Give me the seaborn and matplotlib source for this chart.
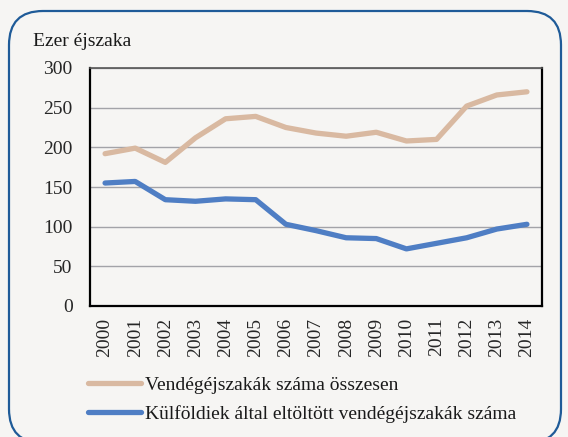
import matplotlib
matplotlib.use("Agg")
import matplotlib.pyplot as plt
from matplotlib.patches import FancyBboxPatch
from matplotlib.transforms import IdentityTransform
import numpy as np
import pandas as pd
import seaborn as sns

years = list(range(2000, 2015))
total = [192, 199, 181, 212, 236, 239, 225, 218, 214, 219, 208, 210, 252, 266, 270]
foreign = [155, 157, 134, 132, 135, 134, 103, 95, 86, 85, 72, 79, 86, 97, 103]
series_names = ["Vendégéjszakák száma összesen",
                "Külföldiek által eltöltött vendégéjszakák száma"]
colors = ["#d9b9a1", "#4f7ec4"]
bg = "#f6f5f3"

df = pd.concat([
    pd.DataFrame({"ev": years, "ertek": total, "sor": series_names[0]}),
    pd.DataFrame({"ev": years, "ertek": foreign, "sor": series_names[1]}),
])

sns.set_style("white")
plt.rcParams['font.family'] = ['Liberation Serif', 'DejaVu Serif']
plt.rcParams['text.color'] = '#1a1a1a'

fig = plt.figure(figsize=(5.68, 4.37), dpi=100, facecolor=bg)

# rounded frame around the chart
box = FancyBboxPatch((9, -6), 552, 432, boxstyle="round,pad=0,rounding_size=34",
                     transform=IdentityTransform(), facecolor=bg,
                     edgecolor="#1f5b98", linewidth=1.6, zorder=-5)
fig.patches.append(box)

ax = fig.add_axes([90 / 568, 131 / 437, 452 / 568, 238 / 437])
ax.set_facecolor(bg)

sns.lineplot(data=df, x="ev", y="ertek", hue="sor", palette=colors,
             linewidth=3.8, ax=ax, legend=False, solid_capstyle="round")

ax.set_xlim(1999.5, 2014.5)
ax.set_ylim(0, 300)
ax.set_yticks(range(0, 301, 50))
ax.yaxis.grid(True, color="#a3a3a8", linewidth=1)
ax.set_axisbelow(True)

ax.set_xticks(years)
ax.set_xticklabels([str(y) for y in years], rotation=90, fontsize=14)
ax.set_xticks(np.arange(1999.5, 2015, 1), minor=True)
ax.tick_params(axis="x", which="major", length=0, pad=8.5)
ax.tick_params(axis="x", which="minor", length=4.5, width=1.5, direction="out", color="black")
ax.tick_params(axis="y", length=4.5, width=1.5, direction="out", color="black", labelsize=14, pad=8)

for s in ["left", "bottom", "right"]:
    ax.spines[s].set_color("black")
    ax.spines[s].set_linewidth(1.6)
ax.spines["top"].set_color("#555555")
ax.spines["top"].set_linewidth(1.2)

ax.set_xlabel("")
ax.set_ylabel("")

fig.text(33 / 568, 1 - 41 / 437, "Ezer éjszaka", fontsize=14, va="center", ha="left")

handles = [plt.Line2D([], [], color=c, linewidth=3.8, solid_capstyle="round") for c in colors]
fig.legend(handles, series_names, loc="upper left",
           bbox_to_anchor=(88 / 568, 1 - 376 / 437), frameon=False,
           fontsize=14, handlelength=2.75, handletextpad=0.2, labelspacing=0.6,
           borderaxespad=0, borderpad=0)

fig.savefig("out.png", dpi=100, facecolor=bg)
